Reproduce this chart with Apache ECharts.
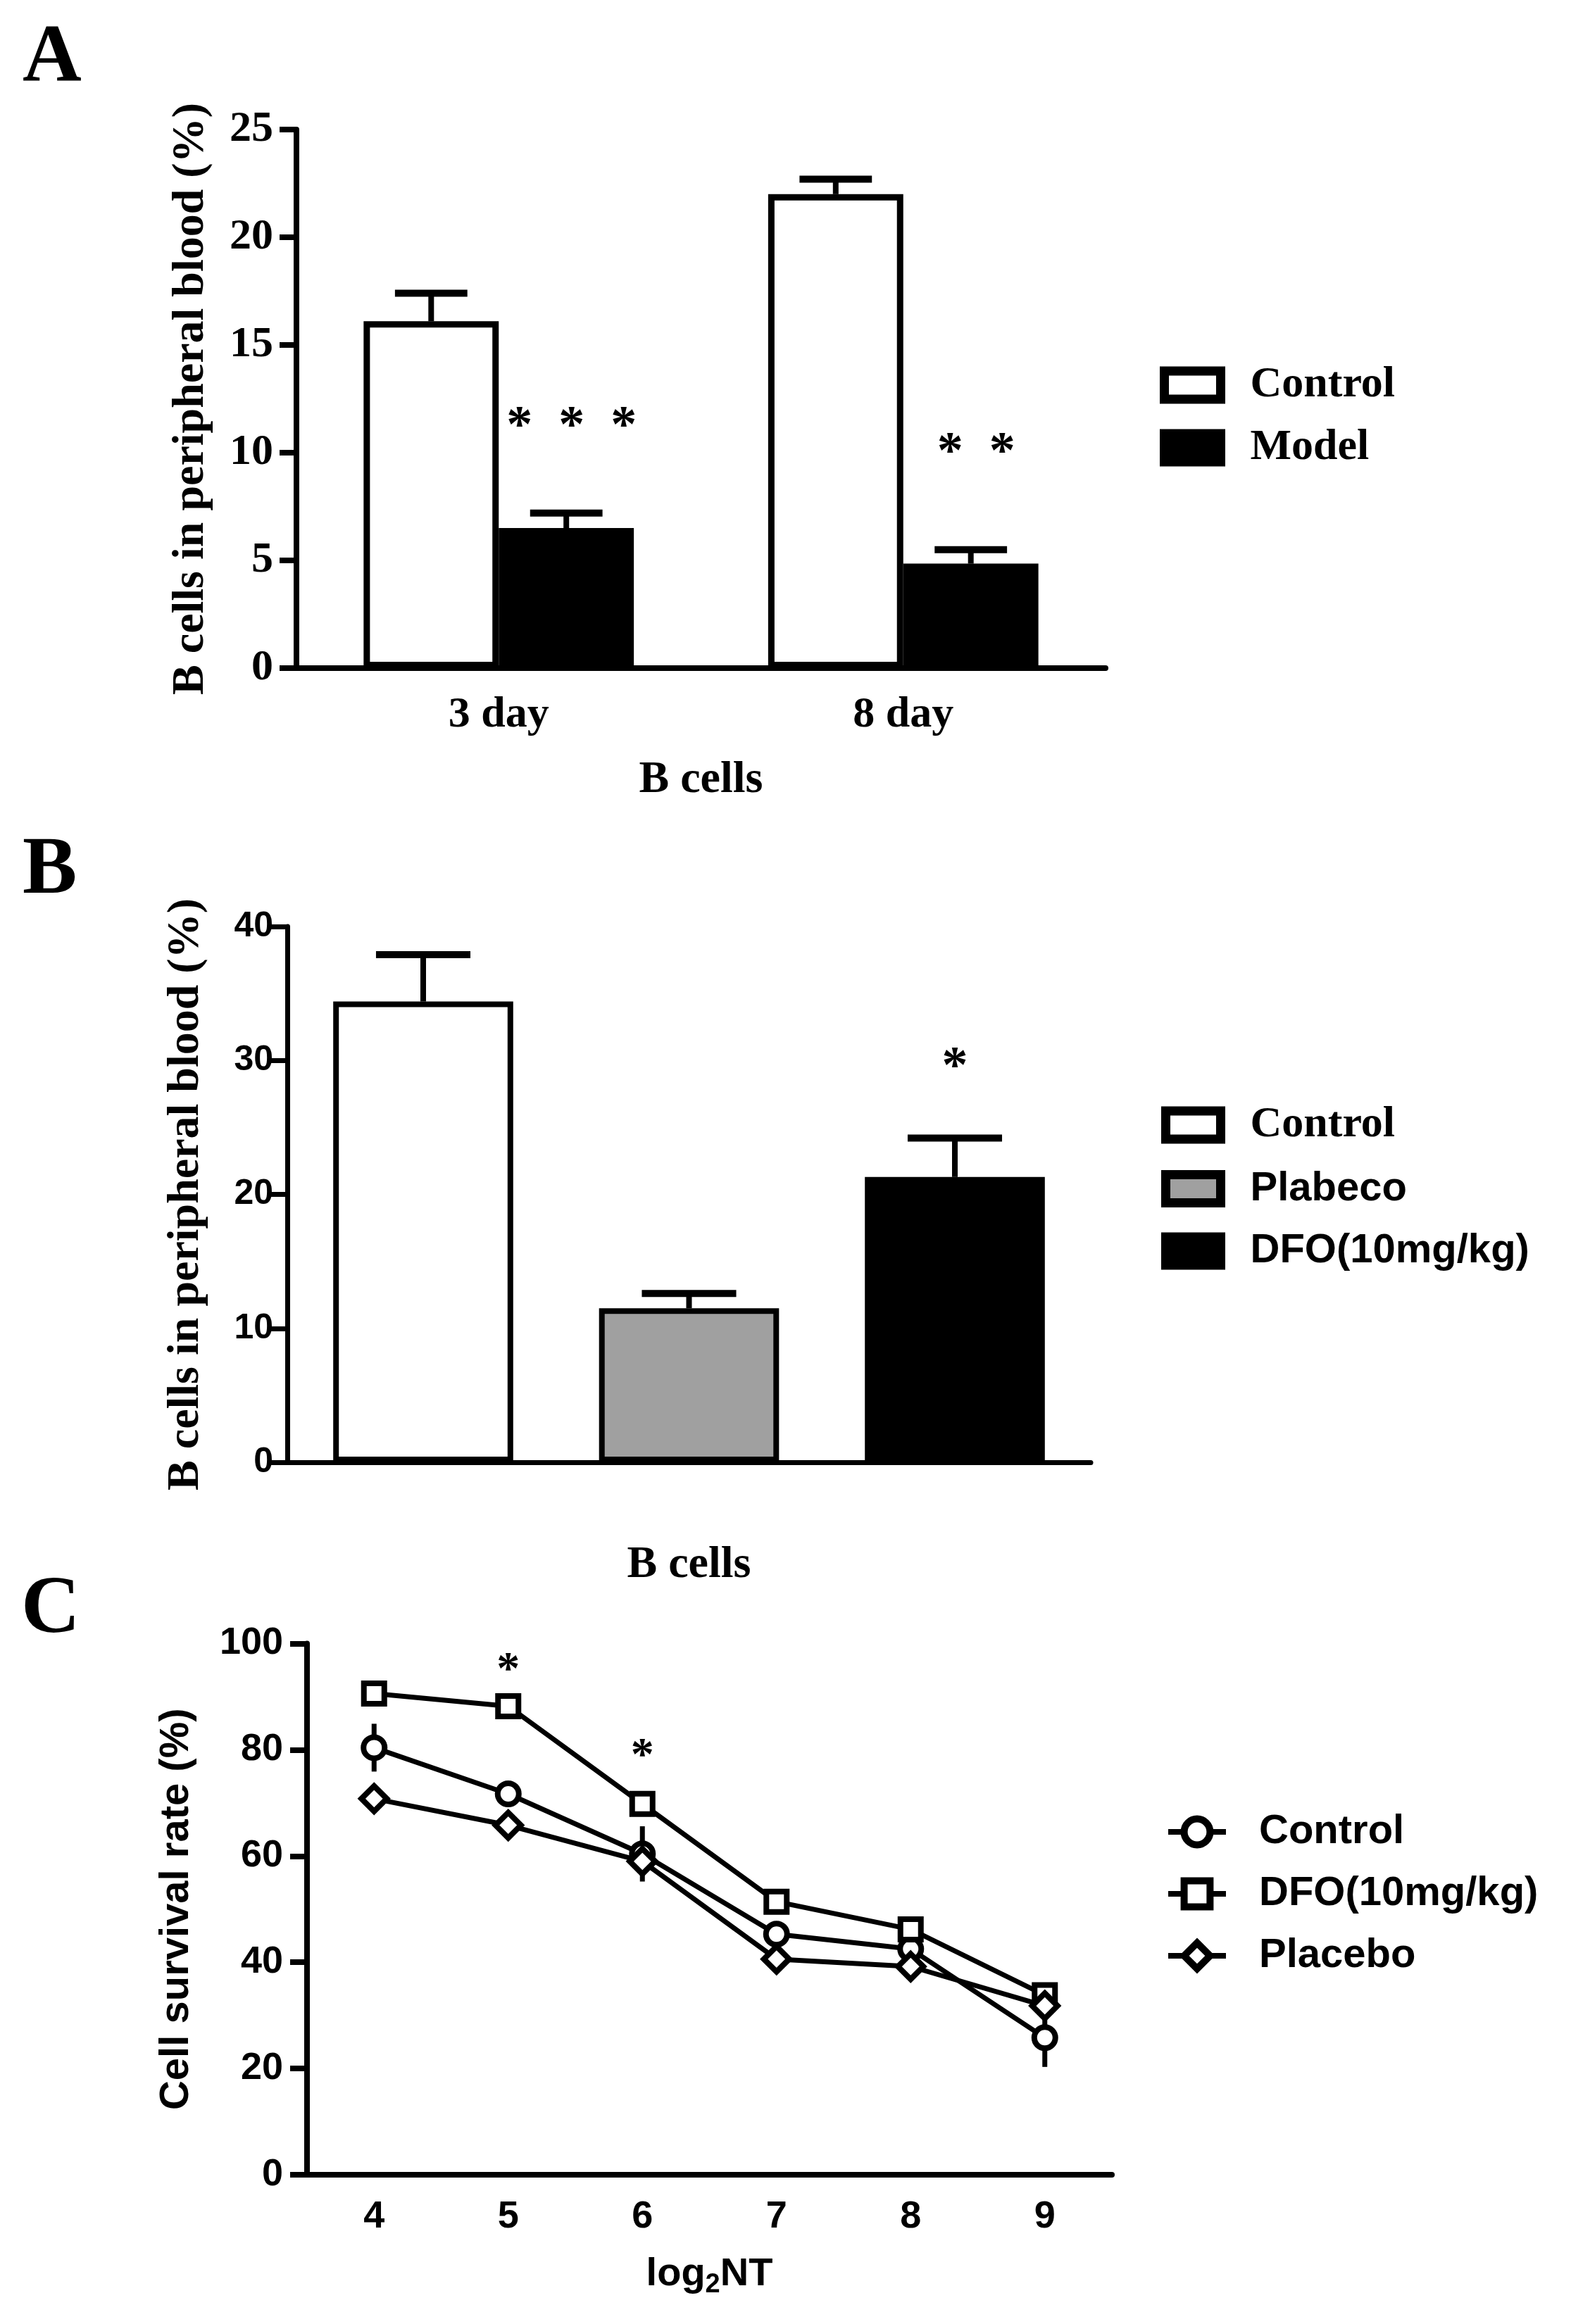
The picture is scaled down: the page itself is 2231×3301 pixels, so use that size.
<!DOCTYPE html>
<html>
<head>
<meta charset="utf-8">
<script src="https://cdn.jsdelivr.net/npm/echarts@6/dist/echarts.min.js"></script>
<style>
  html, body { margin: 0; padding: 0; background: #fff; }
  #chart { width: 2231px; height: 3301px; }
</style>
</head>
<body>
<div id="chart"></div>
<script>
// panel A: B cells after 3 and 8 days
const aDays = ['3 day', '8 day'];
const aControl = [16.1, 22.0];
const aControlErr = [1.3, 0.7];
const aModel = [6.5, 4.85];
const aModelErr = [0.7, 0.65];
const aStarLevel = [11.4, 10.2];
const aStarText = ['*  *  *', '*  *'];

// panel B: single group, three treatments
const bGroup = ['B cells'];
const bNames = ['Control', 'Plabeco', 'DFO(10mg/kg)'];
const bValues = [34.4, 11.5, 21.3];
const bErr = [3.5, 1.1, 2.9];
const bColors = ['#ffffff', '#a0a0a0', '#000000'];
const bStarLevel = [29.8];
const bStarText = ['*'];

// panel C: survival vs log2NT
const cDoses = ['4', '5', '6', '7', '8', '9'];
const cControl = [80.4, 71.7, 60.4, 45.3, 42.5, 25.8];
const cControlErr = [4.5, 1.5, 5.2, 1.5, 1.5, 5.5];
const cDFO = [90.6, 88.2, 69.8, 51.4, 46.2, 33.8];
const cDFOErr = [1.5, 1, 1, 1, 1, 1];
const cPlacebo = [70.8, 65.8, 59.0, 40.6, 39.2, 31.8];
const cPlaceboErr = [2, 1, 1, 1, 1, 1.5];
const cStarDose = [1, 2];
const cStarLevel = [95.8, 79.7];
const cStarText = ['*', '*'];

const serif = 'Liberation Serif';
const sans = 'Liberation Sans';

// bar layout as fraction of the category band
const aBar = 0.334;
const bBar = 0.224;
const bGap = 0.477;

function capBars(shift, capFrac, stemW, capW) {
  return function (params, api) {
    const i = api.value(0);
    const base = api.coord([i, api.value(1)]);
    const top = api.coord([i, api.value(2)]);
    const band = api.size([1, 0])[0];
    const x = base[0] + band * shift;
    const half = band * capFrac / 2;
    return {
      type: 'group',
      children: [
        { type: 'line', shape: { x1: x, y1: base[1], x2: x, y2: top[1] }, style: { stroke: '#000', lineWidth: stemW } },
        { type: 'line', shape: { x1: x - half, y1: top[1], x2: x + half, y2: top[1] }, style: { stroke: '#000', lineWidth: capW } }
      ]
    };
  };
}

function vBars(width) {
  return function (params, api) {
    const lo = api.coord([api.value(0), api.value(1)]);
    const hi = api.coord([api.value(0), api.value(2)]);
    return { type: 'line', shape: { x1: lo[0], y1: lo[1], x2: hi[0], y2: hi[1] }, style: { stroke: '#000', lineWidth: width } };
  };
}

function stars(texts, shift, font) {
  return function (params, api) {
    const p = api.coord([api.value(0), api.value(1)]);
    const band = api.size([1, 0])[0];
    return {
      type: 'text',
      x: p[0] + band * shift,
      y: p[1] + 8,
      style: { text: texts[params.dataIndex], font: font, fill: '#000', align: 'center', verticalAlign: 'middle' }
    };
  };
}

function valueAxis(grid, max, step, font, size, lw, margin, name, nameFont, nameSize, nameGap) {
  return {
    type: 'value', gridIndex: grid, min: 0, max: max, interval: step,
    axisLine: { show: true, lineStyle: { color: '#000', width: lw } },
    axisTick: { show: true, length: 24, lineStyle: { color: '#000', width: lw } },
    splitLine: { show: false },
    axisLabel: { color: '#000', fontFamily: font, fontWeight: 'bold', fontSize: size, margin: margin },
    name: name, nameLocation: 'middle', nameGap: nameGap,
    nameTextStyle: { color: '#000', fontFamily: nameFont, fontWeight: 'bold', fontSize: nameSize }
  };
}

const chart = echarts.init(document.getElementById('chart'));

const series = [
  // A
  { name: 'A:Control', type: 'bar', xAxisIndex: 0, yAxisIndex: 0, data: aControl, barWidth: (aBar * 100) + '%', barGap: '0%',
    itemStyle: { color: '#fff', borderColor: '#000', borderWidth: 9 } },
  { name: 'A:Model', type: 'bar', xAxisIndex: 0, yAxisIndex: 0, data: aModel, barWidth: (aBar * 100) + '%', barGap: '0%',
    itemStyle: { color: '#000', borderColor: '#000', borderWidth: 9 } },
  { type: 'custom', xAxisIndex: 0, yAxisIndex: 0, silent: true, z: 3, encode: { x: 0, y: [1, 2] },
    renderItem: capBars(-aBar / 2, 0.179, 8, 10), data: aControl.map((v, i) => [i, v, v + aControlErr[i]]) },
  { type: 'custom', xAxisIndex: 0, yAxisIndex: 0, silent: true, z: 3, encode: { x: 0, y: [1, 2] },
    renderItem: capBars(aBar / 2, 0.179, 8, 10), data: aModel.map((v, i) => [i, v, v + aModelErr[i]]) },
  { type: 'custom', xAxisIndex: 0, yAxisIndex: 0, silent: true, z: 3,
    renderItem: stars(aStarText, 0.18, 'bold 74px "' + serif + '"'), data: aStarLevel.map((v, i) => [i, v]) }
];

// B bars, one series per treatment
bNames.forEach(function (n, k) {
  series.push({
    name: 'B:' + n, type: 'bar', xAxisIndex: 1, yAxisIndex: 1, data: [bValues[k]],
    barWidth: (bBar * 100) + '%', barGap: (bGap * 100) + '%',
    itemStyle: { color: bColors[k], borderColor: '#000', borderWidth: 8 }
  });
  series.push({
    type: 'custom', xAxisIndex: 1, yAxisIndex: 1, silent: true, z: 3, encode: { x: 0, y: [1, 2] },
    renderItem: capBars((k - 1) * bBar * (1 + bGap), 0.1175, 8, 10),
    data: [[0, bValues[k], bValues[k] + bErr[k]]]
  });
});
series.push({ type: 'custom', xAxisIndex: 1, yAxisIndex: 1, silent: true, z: 3,
  renderItem: stars(bStarText, bBar * (1 + bGap), 'bold 74px "' + serif + '"'), data: bStarLevel.map(v => [0, v]) });

// C lines
const cSets = [
  ['Control', cControl, cControlErr, 'circle', 30],
  ['DFO(10mg/kg)', cDFO, cDFOErr, 'rect', 29],
  ['Placebo', cPlacebo, cPlaceboErr, 'diamond', 36]
];
cSets.forEach(function (s) {
  series.push({
    type: 'custom', xAxisIndex: 2, yAxisIndex: 2, silent: true, z: 1, encode: { x: 0, y: [1, 2] },
    renderItem: vBars(7), data: s[1].map((v, i) => [i, v - s[2][i], v + s[2][i]])
  });
});
cSets.forEach(function (s) {
  series.push({
    name: 'C:' + s[0], type: 'line', xAxisIndex: 2, yAxisIndex: 2, data: s[1], z: 2,
    symbol: s[3], symbolSize: s[4], showAllSymbol: true,
    lineStyle: { color: '#000', width: 7 },
    itemStyle: { color: '#fff', borderColor: '#000', borderWidth: 8 }
  });
});
series.push({ type: 'custom', xAxisIndex: 2, yAxisIndex: 2, silent: true, z: 3,
  renderItem: stars(cStarText, 0, 'bold 66px "' + serif + '"'), data: cStarLevel.map((v, i) => [cStarDose[i], v]) });

const option = {
  backgroundColor: '#fff',
  animation: false,
  graphic: [
    { type: 'text', left: 32, top: 26, style: { text: 'A', font: 'bold 116px "' + serif + '"', fill: '#000' } },
    { type: 'text', left: 32, top: 1180, style: { text: 'B', font: 'bold 116px "' + serif + '"', fill: '#000' } },
    { type: 'text', left: 30, top: 2230, style: { text: 'C', font: 'bold 116px "' + serif + '"', fill: '#000' } }
  ],
  grid: [
    { left: 421, top: 184, width: 1149, height: 765 },
    { left: 408, top: 1316, width: 1141, height: 761 },
    { left: 436, top: 2334.5, width: 1143, height: 754.5 }
  ],
  xAxis: [
    { type: 'category', gridIndex: 0, data: aDays,
      axisLine: { lineStyle: { color: '#000', width: 8 } },
      axisTick: { alignWithLabel: true, length: 25, lineStyle: { color: '#000', width: 7 } },
      axisLabel: { color: '#000', fontFamily: serif, fontWeight: 'bold', fontSize: 62, margin: 36 },
      name: 'B cells', nameLocation: 'middle', nameGap: 127,
      nameTextStyle: { color: '#000', fontFamily: serif, fontWeight: 'bold', fontSize: 64 } },
    { type: 'category', gridIndex: 1, data: bGroup,
      axisLine: { lineStyle: { color: '#000', width: 7 } },
      axisTick: { alignWithLabel: true, length: 24, lineStyle: { color: '#000', width: 6 } },
      axisLabel: { show: false },
      name: 'B cells', nameLocation: 'middle', nameGap: 114,
      nameTextStyle: { color: '#000', fontFamily: serif, fontWeight: 'bold', fontSize: 64 } },
    { type: 'category', gridIndex: 2, data: cDoses,
      axisLine: { lineStyle: { color: '#000', width: 8 } },
      axisTick: { alignWithLabel: true, length: 22, lineStyle: { color: '#000', width: 7 } },
      axisLabel: { color: '#000', fontFamily: sans, fontWeight: 'bold', fontSize: 54, margin: 33 },
      name: 'log{sub|2}NT', nameLocation: 'middle', nameGap: 108,
      nameTextStyle: { color: '#000', fontFamily: sans, fontWeight: 'bold', fontSize: 56,
        rich: { sub: { fontFamily: sans, fontWeight: 'bold', fontSize: 38, verticalAlign: 'bottom', padding: [30, 0, 0, 0] } } } }
  ],
  yAxis: [
    valueAxis(0, 25, 5, serif, 62, 8, 33, 'B cells in peripheral blood (%)', serif, 64, 118),
    valueAxis(1, 40, 10, sans, 50, 7, 20, 'B cells in peripheral blood (%)', serif, 64, 112),
    valueAxis(2, 100, 20, sans, 54, 8, 34, 'Cell survival rate (%)', sans, 58, 156)
  ],
  legend: [
    { orient: 'vertical', left: 1647, top: 516, padding: 0, itemWidth: 80, itemHeight: 40, itemGap: 27, icon: 'rect',
      data: ['A:Control', 'A:Model'], itemStyle: { borderWidth: 13, borderColor: '#000' },
      formatter: n => '{s|' + n.slice(2) + '}',
      textStyle: { rich: { s: { fontFamily: serif, fontWeight: 'bold', fontSize: 62, color: '#000', padding: [0, 0, 0, 37] } } } },
    { orient: 'vertical', left: 1649, top: 1567, padding: 0, itemWidth: 78, itemHeight: 40, itemGap: 30.5, icon: 'rect',
      data: bNames.map(n => 'B:' + n), itemStyle: { borderWidth: 13, borderColor: '#000' },
      formatter: n => (n === 'B:Control' ? '{r|' : '{s|') + n.slice(2) + '}',
      textStyle: { rich: {
        r: { fontFamily: serif, fontWeight: 'bold', fontSize: 62, color: '#000', padding: [0, 0, 0, 37] },
        s: { fontFamily: sans, fontWeight: 'bold', fontSize: 58, color: '#000', padding: [0, 0, 0, 37] } } } },
    { orient: 'vertical', left: 1655, top: 2573, padding: 0, itemWidth: 82, itemHeight: 46, itemGap: 30,
      data: cSets.map(s => 'C:' + s[0]), itemStyle: { borderWidth: 10, borderColor: '#000' }, lineStyle: { width: 8, color: '#000' },
      formatter: n => '{s|' + n.slice(2) + '}',
      textStyle: { rich: { s: { fontFamily: sans, fontWeight: 'bold', fontSize: 58, color: '#000', padding: [0, 0, 0, 42] } } } }
  ],
  series: series
};

chart.setOption(option);
</script>
</body>
</html>
